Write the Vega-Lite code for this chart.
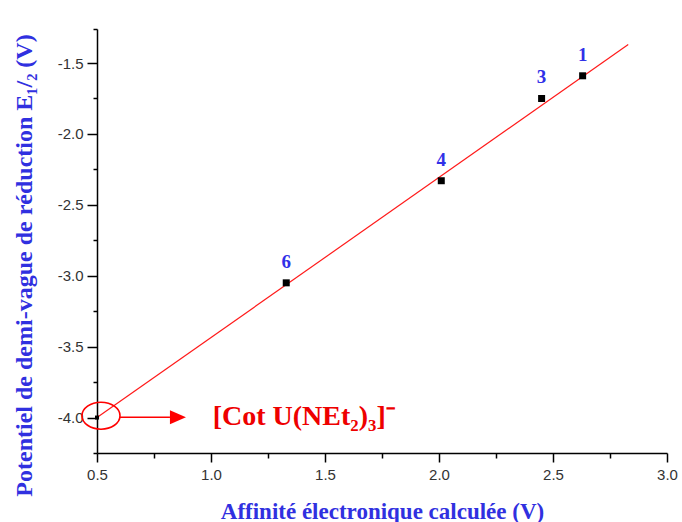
{
  "$schema": "https://vega.github.io/schema/vega-lite/v6.json",
  "width": 570,
  "height": 424,
  "autosize": "none",
  "padding": {"left": 97, "top": 29, "right": 15, "bottom": 69},
  "background": "white",
  "config": {
    "view": {"stroke": null},
    "axis": {
      "grid": false,
      "domainColor": "black",
      "domainWidth": 1.5,
      "tickColor": "black",
      "tickWidth": 1.5,
      "labelFont": "Liberation Sans",
      "labelFontSize": 15,
      "labelColor": "#333333",
      "labelFlush": false,
      "labelOverlap": false,
      "labelBound": false,
      "titleFont": "Liberation Serif",
      "titleFontWeight": "bold",
      "titleColor": "#3030e0"
    }
  },
  "datasets": {
    "complexes": [
      {"ae": 1.33, "e12": -3.05, "n": "6"},
      {"ae": 2.01, "e12": -2.33, "n": "4"},
      {"ae": 2.45, "e12": -1.75, "n": "3"},
      {"ae": 2.63, "e12": -1.59, "n": "1"}
    ],
    "anion": [
      {"ae": 0.5, "e12": -4.0}
    ],
    "fit": [
      {"ae": 0.5, "e12": -4.0},
      {"ae": 2.83, "e12": -1.37}
    ]
  },
  "resolve": {"axis": {"x": "independent", "y": "independent"}},
  "layer": [
    {
      "data": {"name": "fit"},
      "mark": {"type": "line", "color": "#ff1a1a", "strokeWidth": 1.2},
      "encoding": {
        "x": {
          "field": "ae",
          "type": "quantitative",
          "scale": {"domain": [0.5, 3.0], "nice": false, "zero": false},
          "axis": {
            "orient": "bottom",
            "title": "Affinité électronique calculée (V)",
            "titleFontSize": 23,
            "titleBaseline": "alphabetic",
            "titleY": 65,
            "values": [0.5, 1.0, 1.5, 2.0, 2.5, 3.0],
            "format": ".1f",
            "tickSize": 9,
            "labelPadding": 5
          }
        },
        "y": {
          "field": "e12",
          "type": "quantitative",
          "scale": {"domain": [-4.25, -1.26], "nice": false, "zero": false},
          "axis": {
            "orient": "left",
            "title": "Potentiel de demi-vague de réduction E₁/₂ (V)",
            "titleFontSize": 24,
            "titleAlign": "center",
            "titleBaseline": "middle",
            "titleX": -73,
            "titleY": 236,
            "values": [-4.0, -3.5, -3.0, -2.5, -2.0, -1.5],
            "labelExpr": "'-' + format(abs(datum.value), '.1f')",
            "tickSize": 10,
            "labelPadding": 4
          }
        }
      }
    },
    {
      "data": {"name": "anion"},
      "mark": {"type": "point", "shape": "square", "filled": true, "color": "black", "size": 16, "opacity": 1},
      "encoding": {
        "x": {
          "field": "ae",
          "type": "quantitative",
          "axis": {
            "orient": "bottom",
            "title": null,
            "values": [0.75, 1.25, 1.75, 2.25, 2.75],
            "labels": false,
            "domain": false,
            "tickSize": 5
          }
        },
        "y": {
          "field": "e12",
          "type": "quantitative",
          "axis": {
            "orient": "left",
            "title": null,
            "values": [-4.25, -3.75, -3.25, -2.75, -2.25, -1.75, -1.26],
            "labels": false,
            "domain": false,
            "tickSize": 4
          }
        }
      }
    },
    {
      "data": {"name": "complexes"},
      "mark": {"type": "point", "shape": "square", "filled": true, "color": "black", "size": 49, "opacity": 1},
      "encoding": {
        "x": {"field": "ae", "type": "quantitative", "axis": null},
        "y": {"field": "e12", "type": "quantitative", "axis": null}
      }
    },
    {
      "data": {"name": "complexes"},
      "mark": {"type": "text", "font": "Liberation Serif", "fontWeight": "bold", "fontSize": 19, "color": "#3030e8", "baseline": "alphabetic", "align": "center", "dy": -15},
      "encoding": {
        "x": {"field": "ae", "type": "quantitative", "axis": null},
        "y": {"field": "e12", "type": "quantitative", "axis": null},
        "text": {"field": "n"}
      }
    },
    {
      "data": {"values": [{}]},
      "mark": {"type": "point", "shape": "M -1 0 A 1 0.71 0 1 1 1 0 A 1 0.71 0 1 1 -1 0 Z", "filled": false, "stroke": "#ff0000", "strokeWidth": 1.6, "size": 1444, "opacity": 1},
      "encoding": {
        "x": {"datum": 0.5175, "type": "quantitative", "axis": null},
        "y": {"datum": -3.987, "type": "quantitative", "axis": null}
      }
    },
    {
      "data": {"values": [{}]},
      "mark": {"type": "rule", "color": "#ff0000", "strokeWidth": 1.6},
      "encoding": {
        "x": {"datum": 0.601, "type": "quantitative", "axis": null},
        "x2": {"datum": 0.82},
        "y": {"datum": -3.998, "type": "quantitative", "axis": null}
      }
    },
    {
      "data": {"values": [{}]},
      "mark": {"type": "point", "shape": "M -1 -0.875 L 1 0 L -1 0.875 Z", "filled": true, "color": "#ff0000", "size": 256, "opacity": 1},
      "encoding": {
        "x": {"datum": 0.855, "type": "quantitative", "axis": null},
        "y": {"datum": -3.998, "type": "quantitative", "axis": null}
      }
    },
    {
      "data": {"values": [{}]},
      "mark": {"type": "text", "text": "[Cot U(NEt₂)₃]⁻", "font": "Liberation Serif", "fontWeight": "bold", "fontSize": 28, "color": "#ee0000", "align": "left", "baseline": "alphabetic"},
      "encoding": {
        "x": {"datum": 1.0075, "type": "quantitative", "axis": null},
        "y": {"datum": -4.054, "type": "quantitative", "axis": null}
      }
    }
  ]
}
